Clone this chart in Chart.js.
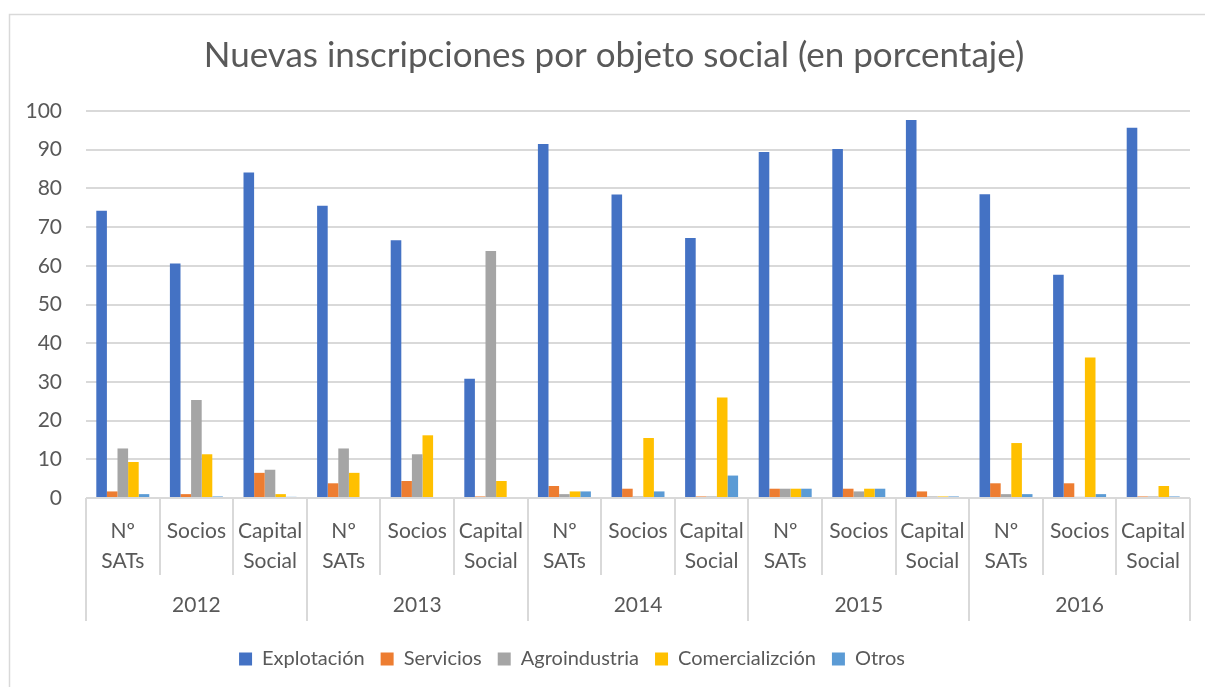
<!DOCTYPE html>
<html>
<head>
<meta charset="utf-8">
<script src="https://cdn.jsdelivr.net/npm/chart.js@4"></script>
<style>
  body { margin: 0; background: #fff; }
  #wrap { width: 1205px; height: 687px; position: relative; }
</style>
</head>
<body>
<div id="wrap"><canvas id="chart" width="1205" height="687"></canvas></div>
<script>
const categorias = [
    ['Nº', 'SATs'], 'Socios', ['Capital', 'Social'],
    ['Nº', 'SATs'], 'Socios', ['Capital', 'Social'],
    ['Nº', 'SATs'], 'Socios', ['Capital', 'Social'],
    ['Nº', 'SATs'], 'Socios', ['Capital', 'Social'],
    ['Nº', 'SATs'], 'Socios', ['Capital', 'Social']
];
const anios = ['2012', '2013', '2014', '2015', '2016'];
const yTicks = [0, 10, 20, 30, 40, 50, 60, 70, 80, 90, 100];
const titulo = 'Nuevas inscripciones por objeto social (en porcentaje)';

const explotacion = [74.2, 60.6, 84.1, 75.5, 66.6, 30.8, 91.5, 78.4, 67.2, 89.4, 90.2, 97.7, 78.5, 57.7, 95.7];
const servicios = [1.7, 1.0, 6.5, 3.8, 4.4, 0.4, 3.1, 2.4, 0.4, 2.4, 2.4, 1.7, 3.8, 3.8, 0.4];
const agroindustria = [12.8, 25.3, 7.3, 12.8, 11.3, 63.8, 1.0, 0.4, 0.4, 2.4, 1.7, 0.4, 1.0, 0.3, 0.4];
const comercializacion = [9.3, 11.3, 1.0, 6.5, 16.2, 4.4, 1.7, 15.5, 26.0, 2.4, 2.4, 0.4, 14.2, 36.3, 3.1];
const otros = [1.0, 0.4, 0.3, 0, 0, 0, 1.7, 1.7, 5.8, 2.4, 2.4, 0.4, 1.0, 1.0, 0.4];

const GRIS = '#d9d9d9';
const TEXTO = '#595959';
const FUENTE = 'Lato';

// titulo centrado sobre el marco, separadores de categorias y etiquetas de anio (eje multinivel)
const ejeMultinivel = {
    id: 'ejeMultinivel',
    afterLayout(chart) {
        // la leyenda va centrada sobre el marco, no sobre el lienzo
        chart.legend.left -= 23;
        chart.legend.right -= 23;
    },
    afterDraw(chart) {
        const ctx = chart.ctx;
        const x = chart.scales.x;
        const base = chart.chartArea.bottom;
        const paso = (x.right - x.left) / categorias.length;
        ctx.save();
        ctx.fillStyle = TEXTO;
        ctx.font = '35px ' + FUENTE;
        ctx.textAlign = 'center';
        ctx.textBaseline = 'middle';
        ctx.fillText(titulo, 614, 56);

        ctx.strokeStyle = GRIS;
        ctx.lineWidth = 2;
        for (let i = 0; i <= categorias.length; i++) {
            const px = Math.round(x.left + i * paso);
            const fin = (i % 3 === 0) ? base + 123 : base + 77;
            ctx.beginPath();
            ctx.moveTo(px, base);
            ctx.lineTo(px, fin);
            ctx.stroke();
        }
        ctx.font = '21px ' + FUENTE;
        anios.forEach((a, i) => {
            ctx.fillText(a, x.left + (i * 3 + 1.5) * paso, base + 107);
        });
        // marco del grafico
        ctx.lineWidth = 1.5;
        ctx.strokeRect(9.5, 14.5, 1205, 690);
        ctx.restore();
    }
};

new Chart(document.getElementById('chart'), {
    type: 'bar',
    data: {
        labels: categorias,
        datasets: [
            { label: 'Explotación', data: explotacion, backgroundColor: '#4472C4' },
            { label: 'Servicios', data: servicios, backgroundColor: '#ED7D31' },
            { label: 'Agroindustria', data: agroindustria, backgroundColor: '#A5A5A5' },
            { label: 'Comercializción', data: comercializacion, backgroundColor: '#FFC000' },
            { label: 'Otros', data: otros, backgroundColor: '#5B9BD5' }
        ]
    },
    options: {
        responsive: false,
        animation: false,
        datasets: {
            bar: { categoryPercentage: 0.72, barPercentage: 1.0 }
        },
        layout: { padding: { left: 0, right: 15, top: 111, bottom: 8 } },
        plugins: {
            title: { display: false },
            legend: {
                position: 'bottom',
                labels: {
                    color: TEXTO,
                    font: { family: FUENTE, size: 20 },
                    boxWidth: 13,
                    boxHeight: 13,
                    padding: 16
                }
            },
            tooltip: { enabled: false }
        },
        scales: {
            x: {
                grid: { display: false },
                border: { display: false },
                ticks: {
                    color: TEXTO,
                    font: { family: FUENTE, size: 21, lineHeight: 1.4 },
                    maxRotation: 0,
                    autoSkip: false,
                    padding: 11
                },
                afterFit(scale) { scale.height = 135; }
            },
            y: {
                min: 0,
                max: 100,
                afterBuildTicks(scale) { scale.ticks = yTicks.map(v => ({ value: v })); },
                grid: { color: GRIS, lineWidth: 2, drawTicks: false },
                border: { display: false },
                ticks: {
                    color: TEXTO,
                    font: { family: FUENTE, size: 21 },
                    padding: 24
                },
                afterFit(scale) { scale.width = 86; }
            }
        }
    },
    plugins: [ejeMultinivel]
});
</script>
</body>
</html>
